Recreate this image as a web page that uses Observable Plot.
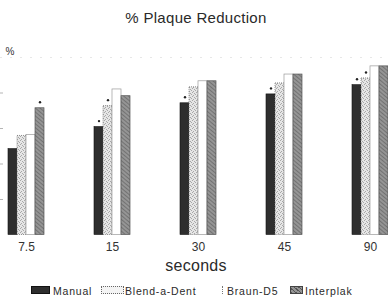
<!DOCTYPE html>
<html>
<head>
<meta charset="utf-8">
<script src="https://cdn.jsdelivr.net/npm/d3@7"></script>
<script src="https://cdn.jsdelivr.net/npm/@observablehq/plot@0.6"></script>
<style>
  html, body { margin: 0; padding: 0; background: #fff; }
  #wrap { position: relative; width: 388px; height: 299px; overflow: hidden; font-family: "Liberation Sans", Arial, Helvetica, sans-serif; color: #2a2a2a; }
  #title { position: absolute; left: 0; width: 392px; top: 10px; text-align: center; font-size: 15px; line-height: 16px; letter-spacing: 0.3px; }
  #chart { position: absolute; left: 0; top: 36px; }
  #xlabel { position: absolute; left: 0; width: 392px; top: 257px; text-align: center; font-size: 16px; line-height: 18px; letter-spacing: 0.3px; }
  .lg { position: absolute; top: 285px; font-size: 10.5px; line-height: 12px; letter-spacing: 0.8px; white-space: nowrap; }
  .sw { position: absolute; top: 286px; height: 8px; box-sizing: border-box; }
</style>
</head>
<body>
<div id="wrap">
  <div id="title">% Plaque Reduction</div>
  <div id="chart"></div>
  <div id="xlabel">seconds</div>
  <div id="legend"></div>
</div>
<script>
// ---- data ----
const groups = ["7.5", "15", "30", "45", "90"];
const seriesNames = ["Manual", "Blend-a-Dent", "Braun-D5", "Interplak"];
const manual    = [24.2, 30.4, 37.1, 39.6, 42.2];
const blend     = [27.9, 36.3, 41.6, 42.7, 44.1];
const braun     = [28.2, 41.0, 43.3, 45.2, 47.5];
const interplak = [35.7, 39.1, 43.3, 45.2, 47.5];
// groups where a significance star is drawn above the bar
const starManual    = ["15", "30", "45", "90"];
const starBlend     = ["15", "90"];
const starInterplak = ["7.5"];
const yTicks = [10, 20, 30, 40];

// ---- build ----
const valuesBySeries = [manual, blend, braun, interplak];
const rows = valuesBySeries.map(vals => groups.map((g, i) => ({group: g, value: vals[i]})));
const barW = 9, bandW = 36;
const styles = [
  {fill: "#2e2e2e", stroke: "#111", strokeWidth: 0.6},
  {fill: "url(#stipple)", stroke: "#777", strokeWidth: 0.8, strokeDasharray: "1,1"},
  {fill: "#ffffff", stroke: "#9a9a9a", strokeWidth: 0.7},
  {fill: "url(#hatch)", stroke: "#555", strokeWidth: 0.7}
];
const bars = rows.map((data, i) => Plot.barY(data, {
  x: "group", y: "value",
  insetLeft: i * barW, insetRight: bandW - (i + 1) * barW,
  ...styles[i]
}));
const starSets = [starManual, starBlend, null, starInterplak];
const stars = starSets.map((set, i) => set ? Plot.dot(rows[i].filter(d => set.includes(d.group)), {
  x: "group", y: "value", r: 1.2, fill: "#222", stroke: "none",
  dx: -bandW / 2 + i * barW + barW / 2, dy: -6
}) : null).filter(Boolean);

const svg = Plot.plot({
  width: 388,
  height: 230,
  marginLeft: 0,
  marginRight: 0,
  marginTop: 21,
  marginBottom: 31.5,
  style: {fontFamily: "'Liberation Sans', Arial, sans-serif", fontSize: "12px", color: "#333", background: "white"},
  x: {domain: groups, range: [3, 392], paddingInner: 0.5826, paddingOuter: 0.047, tickSize: 0, tickPadding: 7, label: null},
  y: {domain: [0, 50], ticks: yTicks, tickSize: -3, tickFormat: () => "", label: null},
  marks: [
    Plot.ruleY([50], {stroke: "#dcdcdc", strokeDasharray: "2,8", strokeWidth: 0.7}),
    ...bars,
    ...stars,
    Plot.text(["%"], {frameAnchor: "top-left", dx: 5, dy: -10, fontSize: 10, fill: "#333"})
  ]
});

// patterns
const defs = d3.select(svg).insert("defs", ":first-child");
const st = defs.append("pattern").attr("id", "stipple").attr("patternUnits", "userSpaceOnUse").attr("width", 4).attr("height", 4);
st.append("rect").attr("width", 4).attr("height", 4).attr("fill", "#e6e6e6");
[[0,0],[2,1],[1,3],[3,2]].forEach(([x, y]) => st.append("rect").attr("x", x).attr("y", y).attr("width", 1).attr("height", 1).attr("fill", "#a8a8a8"));
const ht = defs.append("pattern").attr("id", "hatch").attr("patternUnits", "userSpaceOnUse").attr("width", 3).attr("height", 3).attr("patternTransform", "rotate(-50)");
ht.append("rect").attr("width", 3).attr("height", 3).attr("fill", "#959595");
ht.append("line").attr("x1", 0).attr("y1", 0).attr("x2", 0).attr("y2", 3).attr("stroke", "#555").attr("stroke-width", 1.1);

// faint y ticks as in the reference
d3.select(svg).selectAll('[aria-label^="y-axis"]').each(function() {
  d3.select(this).attr("stroke", "#b5b5b5").style("color", "#b5b5b5");
  d3.select(this).selectAll("path, line").attr("stroke", "#b5b5b5");
});

document.getElementById("chart").appendChild(svg);

// legend
const lg = document.getElementById("legend");
const legendItems = [
  {swLeft: 31, swWidth: 19, swStyle: "background:#2e2e2e;border:1px solid #111;", textLeft: 53},
  {swLeft: 101, swWidth: 23, swStyle: "background:#f4f4f4;border:1px dotted #666;", textLeft: 125},
  {swLeft: 214, swWidth: 9, swStyle: "background:#fff;border-right:1px dotted #777;", textLeft: 227},
  {swLeft: 290, swWidth: 13, swStyle: "background:repeating-linear-gradient(40deg,#555 0 1px,#959595 1px 3px);border:1px solid #444;", textLeft: 305}
];
legendItems.forEach((it, i) => {
  const s = document.createElement("div");
  s.className = "sw";
  s.style.cssText = `left:${it.swLeft}px;width:${it.swWidth}px;` + it.swStyle;
  lg.appendChild(s);
  const t = document.createElement("div");
  t.className = "lg";
  t.style.left = it.textLeft + "px";
  t.textContent = seriesNames[i];
  lg.appendChild(t);
});
</script>
</body>
</html>
